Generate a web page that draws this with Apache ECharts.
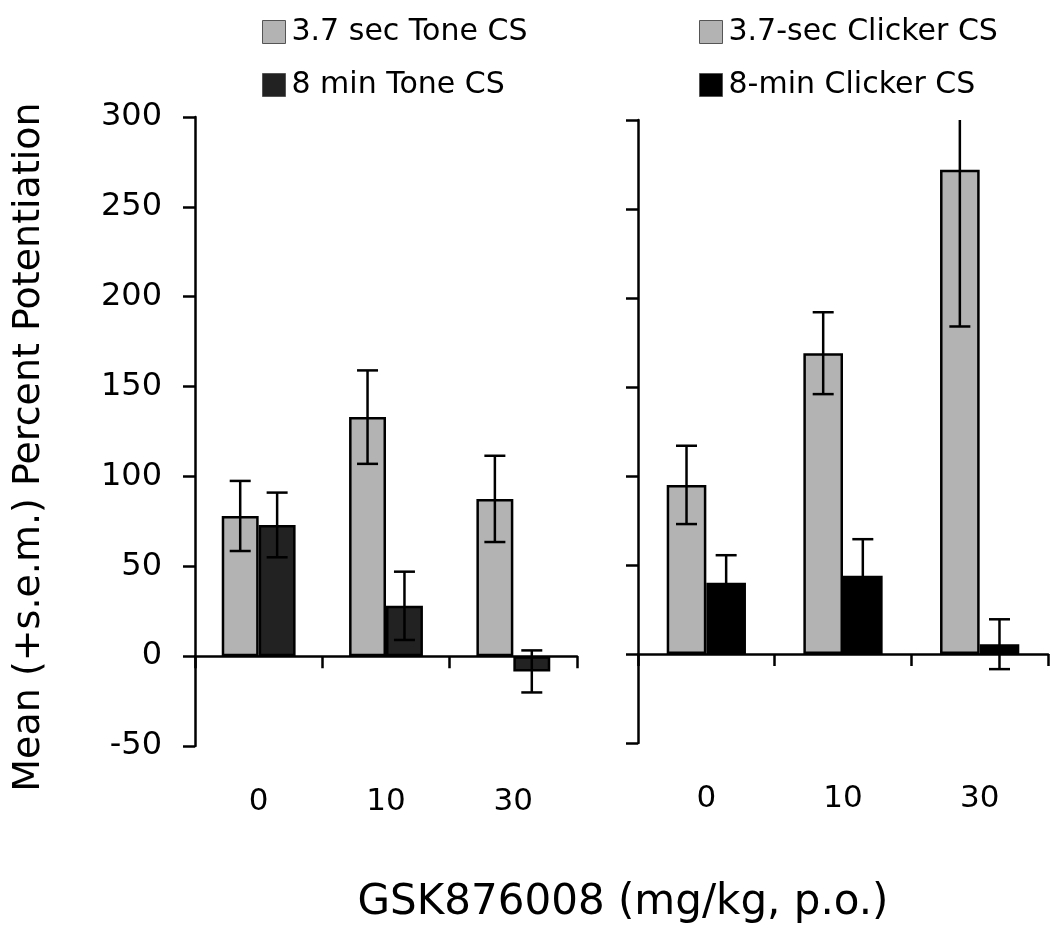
<!DOCTYPE html>
<html>
<head>
<meta charset="utf-8">
<script src="https://cdn.jsdelivr.net/npm/echarts@6/dist/echarts.min.js"></script>
<style>
html,body{margin:0;padding:0;background:#fff;}
#chart{width:1050px;height:933px;}
</style>
</head>
<body>
<div id="chart"></div>
<script>
// ---- data ----
const categories = ['0', '10', '30'];
const yTicks = { min: -50, max: 300, interval: 50 };

const toneShortName = '3.7 sec Tone CS';
const toneShort = [78, 133, 87.5];
const toneShortErr = [19.5, 26, 24];

const toneLongName = '8 min Tone CS';
const toneLong = [73, 28, -8.5];
const toneLongErr = [18, 19, 11.7];

const clickShortName = '3.7-sec Clicker CS';
const clickShort = [95, 169, 272];
const clickShortErr = [22, 23, 88];

const clickLongName = '8-min Clicker CS';
const clickLong = [40, 44, 5.5];
const clickLongErr = [15.5, 20.5, 14];

const xTitle = 'GSK876008 (mg/kg, p.o.)';
const yTitle = 'Mean (+s.e.m.) Percent Potentiation';

// ---- styles ----
const FONT = 'DejaVu Sans';
const GRAY = '#b3b3b3';
const DARK = '#222222';
const BLACK = '#000000';
const BAR_FRAC = 0.29;
const LW = 2.5;

function errData(vals, errs) {
  return vals.map((v, i) => [i, v, errs[i]]);
}

function errRender(sign) {
  return function (params, api) {
    const x = api.value(0), v = api.value(1), e = api.value(2);
    const catW = api.size([1, 0])[0];
    const bw = catW * BAR_FRAC;
    const c = api.coord([x, v]);
    const cx = c[0] + sign * bw / 2;
    const top = api.coord([x, v + e])[1];
    const bot = api.coord([x, v - e])[1];
    const cap = 10.5;
    const st = { stroke: '#000', lineWidth: LW };
    return {
      type: 'group',
      children: [
        { type: 'line', shape: { x1: cx, y1: top, x2: cx, y2: bot }, style: st },
        { type: 'line', shape: { x1: cx - cap, y1: top, x2: cx + cap, y2: top }, style: st },
        { type: 'line', shape: { x1: cx - cap, y1: bot, x2: cx + cap, y2: bot }, style: st }
      ]
    };
  };
}

function xAxisDef(gridIndex) {
  return {
    type: 'category', gridIndex: gridIndex, data: categories,
    boundaryGap: true,
    axisLine: { onZero: true, lineStyle: { color: '#000', width: LW } },
    axisTick: { show: true, length: 12, lineStyle: { color: '#000', width: LW } },
    axisLabel: { margin: 40, fontSize: 31, fontFamily: FONT, color: '#000' },
    splitLine: { show: false }
  };
}

function yAxisDef(gridIndex, showLabels) {
  return {
    type: 'value', gridIndex: gridIndex,
    min: yTicks.min, max: yTicks.max, interval: yTicks.interval,
    axisLine: { show: true, onZero: false, lineStyle: { color: '#000', width: LW } },
    axisTick: { show: true, length: 12, lineStyle: { color: '#000', width: LW } },
    axisLabel: { show: showLabels, margin: 33, fontSize: 32, fontFamily: FONT, color: '#000' },
    splitLine: { show: false }
  };
}

function barDef(name, data, color, gridIndex) {
  return {
    name: name, type: 'bar', xAxisIndex: gridIndex, yAxisIndex: gridIndex,
    data: data, barWidth: (BAR_FRAC * 100) + '%', barGap: '0%',
    itemStyle: { color: color, borderColor: '#000', borderWidth: LW },
    z: 2
  };
}

function errDef(vals, errs, sign, gridIndex) {
  return {
    type: 'custom', xAxisIndex: gridIndex, yAxisIndex: gridIndex,
    data: errData(vals, errs), renderItem: errRender(sign),
    encode: { x: 0, y: 1 }, clip: true, z: 5, silent: true
  };
}

function legendDef(names, left) {
  return {
    data: names, orient: 'vertical', left: left, top: 12,
    itemWidth: 23, itemHeight: 23, itemGap: 23, icon: 'rect',
    selectedMode: false,
    itemStyle: { borderWidth: 1, borderColor: '#555' },
    textStyle: { fontSize: 30, fontFamily: FONT, color: '#000', padding: [0, 0, 0, 1] }
  };
}

const chart = echarts.init(document.getElementById('chart'));
chart.setOption({
  animation: false,
  backgroundColor: '#fff',
  legend: [
    legendDef([toneShortName, toneLongName], 257),
    legendDef([clickShortName, clickLongName], 694)
  ],
  grid: [
    { left: 195, top: 117, width: 382, height: 629 },
    { left: 638, top: 120, width: 410, height: 623 }
  ],
  xAxis: [xAxisDef(0), xAxisDef(1)],
  yAxis: [yAxisDef(0, true), yAxisDef(1, false)],
  series: [
    barDef(toneShortName, toneShort, GRAY, 0),
    barDef(toneLongName, toneLong, DARK, 0),
    barDef(clickShortName, clickShort, GRAY, 1),
    barDef(clickLongName, clickLong, BLACK, 1),
    errDef(toneShort, toneShortErr, -1, 0),
    errDef(toneLong, toneLongErr, 1, 0),
    errDef(clickShort, clickShortErr, -1, 1),
    errDef(clickLong, clickLongErr, 1, 1)
  ],
  graphic: [
    {
      type: 'text', x: 623, y: 903,
      style: { text: xTitle, font: '42px "' + FONT + '"', fill: '#000', textAlign: 'center', textVerticalAlign: 'middle' }
    },
    {
      type: 'text', x: 29, y: 447, rotation: Math.PI / 2,
      style: { text: yTitle, font: '38px "' + FONT + '"', fill: '#000', textAlign: 'center', textVerticalAlign: 'middle' }
    }
  ]
});
</script>
</body>
</html>
